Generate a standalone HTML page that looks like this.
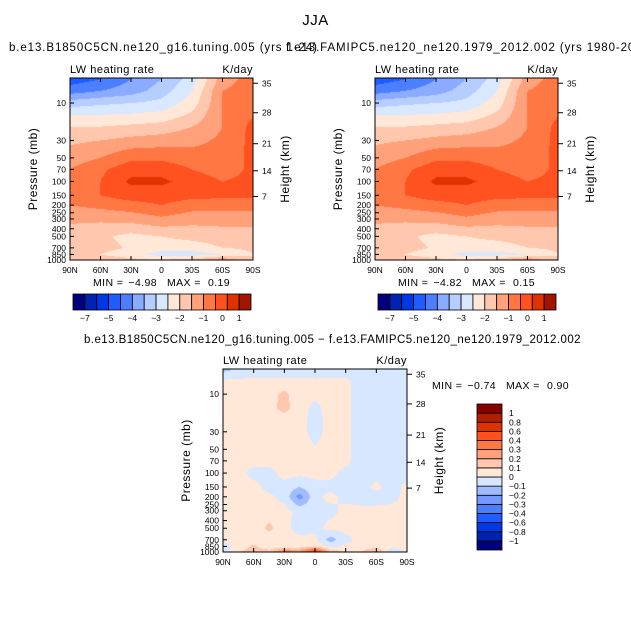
<!DOCTYPE html>
<html><head><meta charset="utf-8">
<style>
body{margin:0;background:#fff;}
#root{position:relative;width:631px;height:630px;overflow:hidden;font-family:"Liberation Sans",sans-serif;color:#000;}
.t{position:absolute;white-space:nowrap;font-size:11.5px;line-height:1;letter-spacing:0.9px;}
canvas{position:absolute;}
svg{position:absolute;left:0;top:0;}
</style></head>
<body>
<div id="root">
<div class="t" style="left:0;width:631px;text-align:center;top:13px;font-size:15px;letter-spacing:0.5px;">JJA</div>
<div class="t" style="left:9px;top:43px;">b.e13.B1850C5CN.ne120_g16.tuning.005 (yrs 1-24)</div>
<div class="t" style="left:286px;top:43px;">f.e13.FAMIPC5.ne120_ne120.1979_2012.002 (yrs 1980-2012)</div>
<div class="t" style="left:17px;width:631px;text-align:center;top:335px;letter-spacing:0.45px;">b.e13.B1850C5CN.ne120_g16.tuning.005 &minus; f.e13.FAMIPC5.ne120_ne120.1979_2012.002</div>
<canvas id="c0" width="183" height="182" style="left:70px;top:78px"></canvas>
<canvas id="c1" width="183" height="182" style="left:375px;top:78px"></canvas>
<canvas id="c2" width="184" height="183" style="left:223px;top:369px"></canvas>
<svg id="s" width="631" height="630"></svg>
</div>
<script>
// ---- data ----
const latTicks = ["90N","60N","30N","0","30S","60S","90S"];
const pressures = [5,7,10,15,20,30,50,70,100,150,200,300,500,700,850,1000];
const pTicks = [10,30,50,70,100,150,200,250,300,400,500,700,850,1000];
const hTicks = [35,28,21,14,7];
const hTickP = [5.6,13.3,33,73,155];
// top fields in colour-band units (band i = i-th colour)
const fieldLeft = [
[3.5,4,5,6,7.5,10.5,11.5],
[4.5,5,5.5,6.5,8,11,11.5],
[6.5,6.8,7,7.3,8.5,11,11.5],
[8.2,8.2,8.3,8.5,9.3,11,12],
[9,9,9.2,9.4,10,11,12.3],
[9.8,10,10.3,10.5,10.7,11.2,12.3],
[10.5,11,11.8,11.8,11.5,11.3,12.3],
[11,11.8,12.6,12.6,12,11.5,12.2],
[11.3,12,13.2,13.2,12.6,12,12.3],
[11.5,12,12.5,12.5,12.3,12.2,12.2],
[11,11.3,11.6,12,11.5,11.5,11.5],
[10.2,10.2,10.4,10.8,10.4,10.4,10.4],
[9.5,9.2,8.7,9,9.3,9.5,9.5],
[9.5,9.3,8.9,8.5,8.5,9,9.2],
[9.3,9,8.5,7.5,7.5,8,9],
[9.5,9.5,9.3,9,9.5,11,9]];
const fieldRight = [
[3.5,4,5,6,7.5,10.5,11.5],
[4.5,5,5.5,6.5,8,11,11.5],
[6.5,6.8,7,7.3,8.5,11,11.5],
[8.2,8.2,8.3,8.5,9.3,11,12],
[9,9,9.2,9.4,10,11,12.3],
[9.8,10,10.3,10.5,10.7,11.2,12.3],
[10.5,11,11.8,11.8,11.5,11.3,12.3],
[11,11.8,12.6,12.6,12,11.5,12.2],
[11.3,12,13.2,13.2,12.6,12,12.3],
[11.5,12,12.5,12.5,12.3,12.2,12.2],
[11,11.3,11.6,12,11.5,11.5,11.5],
[10.2,10.2,10.4,10.8,10.4,10.4,10.4],
[9.5,9.2,8.7,9,9.3,9.5,9.5],
[9.5,9.3,8.9,8.5,8.5,9,9.2],
[9.3,9,8.5,7.6,7.6,8,9],
[9.5,9.5,9.3,9,9.5,11,9]];
const fieldDiff = [
[-0.12,-0.08,-0.05,-0.05,-0.05,-0.05,-0.05,-0.05,-0.05,-0.05,-0.05,-0.05,-0.05],
[0.03,0.03,0.03,0.03,0.03,0.03,0.02,0.03,0.03,-0.05,-0.05,-0.05,-0.05],
[0.03,0.03,0.03,0.05,0.13,0.03,0.02,0.03,0.03,-0.05,-0.05,-0.05,-0.05],
[0.03,0.03,0.03,0.06,0.14,0.03,-0.02,0.03,0.03,-0.05,-0.05,-0.05,-0.05],
[0.03,0.03,0.03,0.03,0.06,0.03,-0.03,0.03,0.03,-0.05,-0.05,-0.05,-0.05],
[0.03,0.03,0.03,0.03,0.03,0.03,-0.03,0.03,0.03,-0.05,-0.05,-0.05,-0.05],
[0.03,0.03,0.03,0.03,0.03,0.03,0.01,0.03,0.03,-0.05,-0.05,-0.05,-0.05],
[0.03,0.03,0.03,0.03,0.03,0.03,0.03,0.03,0.03,-0.05,-0.05,-0.05,-0.05],
[0.03,0.03,-0.03,-0.03,0.03,0.03,0.03,0.03,-0.03,-0.05,-0.05,-0.05,-0.05],
[0.03,0.03,0.03,-0.03,-0.03,-0.1,-0.03,-0.03,-0.05,-0.05,0.03,-0.05,0.03],
[0.03,0.03,0.03,0.02,-0.03,-0.25,-0.03,0.03,-0.03,-0.05,-0.05,-0.03,0.03],
[0.03,0.03,0.03,0.03,0.03,-0.03,-0.03,-0.03,0.03,0.03,0.03,0.03,0.03],
[0.03,0.03,0.03,0.13,0.03,-0.04,-0.03,0.03,0.03,0.03,0.03,0.03,0.03],
[0.03,0.03,0.05,0.03,0.03,0.03,0.03,-0.15,-0.03,0.03,0.03,0.03,0.03],
[-0.05,0.04,0.12,0.03,0.03,0.05,0.1,-0.03,0.03,0.03,0.05,0.03,0.03],
[-0.05,0.1,0.15,0.15,0.35,0.3,0.55,0.2,0.08,0.1,0.25,-0.1,0.03]];
const levelsTop = [1,2,3,4,5,6,7,8,9,10,11,12,13,14];
const colorsTop = ["#00007f","#0022b0","#0038e6","#1f5cff","#4c7fff","#8aabff","#b5cdff","#d8e8ff","#ffe8d8","#ffc8ae","#ffa27c","#ff7844","#ff5220","#e03200","#a01400"];
const topCbLabels = ["−7","−5","−4","−3","−2","−1","0","1"];
const topCbLabelIdx = [1,3,5,7,9,11,12.6,14];
const levelsDiff = [-1,-0.8,-0.6,-0.4,-0.3,-0.2,-0.1,0,0.1,0.2,0.3,0.4,0.6,0.8,1];
const colorsDiff = ["#00007f","#0022b0","#0038e6","#1f5cff","#4c7fff","#7499ff","#a0bcff","#d6e7ff","#ffe8d8","#ffc8ae","#ffa27c","#ff7844","#ff5220","#e03200","#b01f00","#880000"];
const diffCbLabels = ["−1","−0.8","−0.6","−0.4","−0.3","−0.2","−0.1","0","0.1","0.2","0.3","0.4","0.6","0.8","1"];

// ---- helpers ----
const PTOP = 4.8, PBOT = 1000;
function yScale(p, y0, h){ return y0 + (Math.log10(p)-Math.log10(PTOP))/(Math.log10(PBOT)-Math.log10(PTOP))*h; }
function hex(c){ return [parseInt(c.slice(1,3),16),parseInt(c.slice(3,5),16),parseInt(c.slice(5,7),16)]; }
function drawField(id, field, ncol, levels, colors){
  const cv=document.getElementById(id), ctx=cv.getContext('2d');
  const W=cv.width,H=cv.height, img=ctx.createImageData(W,H);
  const lp=pressures.map(p=>Math.log10(p));
  const rgb=colors.map(hex);
  for(let y=0;y<H;y++){
    const l=Math.log10(PTOP)+(y+0.5)/H*(Math.log10(PBOT)-Math.log10(PTOP));
    let r=0; while(r<lp.length-2 && l>lp[r+1]) r++;
    let fy=(l-lp[r])/(lp[r+1]-lp[r]); fy=Math.max(0,Math.min(1,fy));
    for(let x=0;x<W;x++){
      const cx=(x+0.5)/W*(ncol-1); const c=Math.min(ncol-2,Math.floor(cx)); const fx=cx-c;
      const v=(field[r][c]*(1-fx)+field[r][c+1]*fx)*(1-fy)+(field[r+1][c]*(1-fx)+field[r+1][c+1]*fx)*fy;
      let i=0; while(i<levels.length && v>=levels[i]) i++;
      const k=(y*W+x)*4; img.data[k]=rgb[i][0];img.data[k+1]=rgb[i][1];img.data[k+2]=rgb[i][2];img.data[k+3]=255;
    }
  }
  ctx.putImageData(img,0,0);
}
const NS="http://www.w3.org/2000/svg", svg=document.getElementById('s');
function el(tag, attrs, txt){ const e=document.createElementNS(NS,tag); for(const k in attrs) e.setAttribute(k,attrs[k]); if(txt!==undefined) e.textContent=txt; svg.appendChild(e); return e; }
function axes(x0,y0,w,h,prefix){
  let e=el('rect',{x:x0,y:y0,width:w,height:h,fill:'none',stroke:'#000','stroke-width':1});
  
  
  latTicks.forEach((t,i)=>{
    const x=x0+i/(latTicks.length-1)*w;
    el('line',{x1:x,y1:y0+h,x2:x,y2:y0+h-4,stroke:'#000'});
    el('line',{x1:x,y1:y0,x2:x,y2:y0+4,stroke:'#000'});
    const tx=el('text',{x:x,y:y0+h+13,'font-size':8.5,'text-anchor':'middle','font-family':'Liberation Sans'},t);
    
    
  });
  pTicks.forEach(p=>{
    const y=yScale(p,y0,h);
    el('line',{x1:x0,y1:y,x2:x0+4,y2:y,stroke:'#000'});
    const tx=el('text',{x:x0-4,y:y+3,'font-size':8.5,'text-anchor':'end','font-family':'Liberation Sans'},String(p));
    
    
  });
  hTicks.forEach((t,i)=>{
    const y=yScale(hTickP[i],y0,h);
    el('line',{x1:x0+w,y1:y,x2:x0+w+5,y2:y,stroke:'#000'});
    const tx=el('text',{x:x0+w+9,y:y+3,'font-size':8.5,'font-family':'Liberation Sans'},String(t));
    
    
  });
  let a=el('text',{x:x0,y:y0-5,'font-size':11,'letter-spacing':0.5,'font-family':'Liberation Sans'},'LW heating rate');
   
  a=el('text',{x:x0+w,y:y0-5,'font-size':11,'letter-spacing':0.5,'text-anchor':'end','font-family':'Liberation Sans'},'K/day');
   
  const cy=y0+h/2;
  a=el('text',{x:x0-33,y:cy,'font-size':12,'letter-spacing':0.5,'text-anchor':'middle','font-family':'Liberation Sans',transform:`rotate(-90 ${x0-33} ${cy})`},'Pressure (mb)');
   
  a=el('text',{x:x0+w+36,y:cy,'font-size':12,'letter-spacing':0.5,'text-anchor':'middle','font-family':'Liberation Sans',transform:`rotate(-90 ${x0+w+36} ${cy})`},'Height (km)');
   
}
function minMax(x,y,mn,mx,prefix){
  const parts=[["MIN =",x,'start'],[mn,x+64,'end'],["MAX =",x+74,'start'],[mx,x+137,'end']];
  parts.forEach(p=>{
    const s=el('text',{x:p[1],y:y,'font-size':10.5,'letter-spacing':0.4,'text-anchor':p[2],'font-family':'Liberation Sans'},p[0]);
    
    
  });
}
function hColorbar(x0,y0,w,h,prefix){
  const n=colorsTop.length, bw=w/n;
  for(let i=0;i<n;i++){
    const r=el('rect',{x:x0+i*bw,y:y0,width:bw,height:h,fill:colorsTop[i],stroke:'#000','stroke-width':0.8});
    
    
  }
  topCbLabels.forEach((t,i)=>{
    const tx=el('text',{x:x0+topCbLabelIdx[i]*bw,y:y0+h+11,'font-size':8.5,'text-anchor':'middle','font-family':'Liberation Sans'},t);
    
    
  });
}
drawField('c0', fieldLeft, 7, levelsTop, colorsTop);
drawField('c1', fieldRight, 7, levelsTop, colorsTop);
drawField('c2', fieldDiff, 13, levelsDiff, colorsDiff);
axes(70,78,183,182,'left');
axes(375,78,183,182,'right');
axes(223,369,184,183,'diff');
hColorbar(73,294,178,16,'left');
hColorbar(378,294,178,16,'right');
minMax(93,286,'−4.98','0.19','left');
minMax(398,286,'−4.82','0.15','right');
minMax(432,389,'−0.74','0.90','diff');
// diff vertical colorbar
(function(){
  const x0=477,y0=404,w=25,h=146,n=colorsDiff.length,bh=h/n;
  for(let i=0;i<n;i++){
    const r=el('rect',{x:x0,y:y0+(n-1-i)*bh,width:w,height:bh,fill:colorsDiff[i],stroke:'#000','stroke-width':0.8});
    
    
  }
  diffCbLabels.forEach((t,i)=>{
    const y=y0+(n-1-i)*bh;
    const tx=el('text',{x:x0+w+7,y:y+3,'font-size':8.5,'font-family':'Liberation Sans'},t);
    
    
  });
})();
</script>
</body></html>
